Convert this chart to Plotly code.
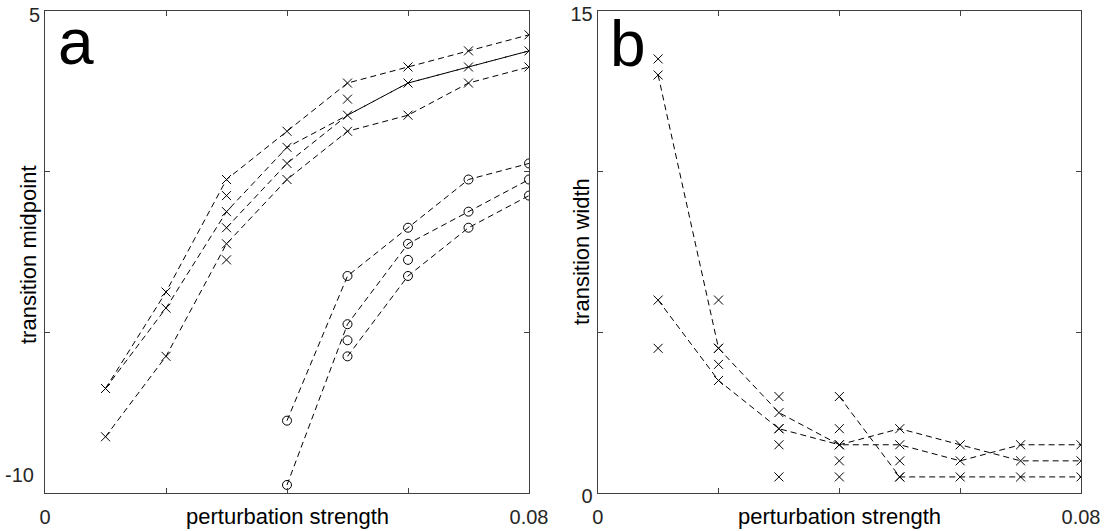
import plotly.graph_objects as go

W, H = 1110, 531
FONT = "Liberation Sans, Arial, sans-serif"

# ---------------- data ----------------
xs = [0.01, 0.02, 0.03, 0.04, 0.05, 0.06, 0.07, 0.08]

# panel a: crosses (individual values per x)
a_cross_x = [0.01, 0.01, 0.01,
             0.02, 0.02, 0.02,
             0.03, 0.03, 0.03, 0.03, 0.03, 0.03,
             0.04, 0.04, 0.04, 0.04,
             0.05, 0.05, 0.05, 0.05,
             0.06, 0.06, 0.06,
             0.07, 0.07, 0.07,
             0.08, 0.08, 0.08]
a_cross_y = [-6.75, -6.75, -8.25,
             -3.75, -4.25, -5.75,
             -0.25, -0.75, -1.25, -1.75, -2.25, -2.75,
             1.25, 0.75, 0.25, -0.25,
             2.75, 2.25, 1.75, 1.25,
             3.25, 2.75, 1.75,
             3.75, 3.25, 2.75,
             4.25, 3.75, 3.25]
a_line1 = [-6.75, -3.75, -0.25, 1.25, 2.75, 3.25, 3.75, 4.25]
a_line2 = [-6.75, -4.25, -1.25, 0.75, 1.75, 2.75, 3.25, 3.75]
a_line3_x = [0.03, 0.04, 0.05, 0.06, 0.07, 0.08]
a_line3 = [-1.75, 0.25, 1.75, 2.75, 3.25, 3.75]
a_line4 = [-8.25, -5.75, -2.25, -0.25, 1.25, 1.75, 2.75, 3.25]

# panel a: circles
a_circ_x = [0.04, 0.04,
            0.05, 0.05, 0.05, 0.05,
            0.06, 0.06, 0.06, 0.06,
            0.07, 0.07, 0.07,
            0.08, 0.08, 0.08]
a_circ_y = [-7.75, -9.75,
            -3.25, -4.75, -5.25, -5.75,
            -1.75, -2.25, -2.75, -3.25,
            -0.25, -1.25, -1.75,
            0.25, -0.25, -0.75]
c_x12 = [0.04, 0.05, 0.06, 0.07, 0.08]
c_line1 = [-7.75, -3.25, -1.75, -0.25, 0.25]
c_line2 = [-9.75, -4.75, -2.25, -1.25, -0.25]
c_x3 = [0.05, 0.06, 0.07, 0.08]
c_line3 = [-5.75, -3.25, -1.75, -0.75]

# panel b: crosses
b_x = [0.01, 0.01, 0.01, 0.01,
       0.02, 0.02, 0.02, 0.02, 0.02,
       0.03, 0.03, 0.03, 0.03, 0.03, 0.03,
       0.04, 0.04, 0.04, 0.04, 0.04, 0.04,
       0.05, 0.05, 0.05, 0.05, 0.05,
       0.06, 0.06, 0.06,
       0.07, 0.07, 0.07,
       0.08, 0.08, 0.08]
b_y = [13.5, 13.0, 6.0, 4.5,
       6.0, 4.5, 4.5, 4.0, 3.5,
       3.0, 2.5, 2.0, 2.0, 1.5, 0.5,
       3.0, 2.0, 1.5, 1.5, 1.0, 0.5,
       2.0, 1.5, 1.0, 0.5, 0.5,
       1.5, 1.0, 0.5,
       1.5, 1.0, 0.5,
       1.5, 1.0, 0.5]
b_line1 = [13.0, 4.5, 2.5, 1.5, 1.5, 1.0, 1.5, 1.5]
b_line2 = [6.0, 3.5, 2.0, 1.5, 2.0, 1.5, 1.0, 1.0]
b_line3_x = [0.04, 0.05, 0.06, 0.07, 0.08]
b_line3 = [3.0, 0.5, 0.5, 0.5, 0.5]

x_tickvals = [0, 0.02, 0.04, 0.06, 0.08]
x_ticktext = ["0", "", "", "", "0.08"]
a_tickvals = [-10, -5, 0, 5]
a_ticktext = ["", "", "", "5"]
b_tickvals = [0, 5, 10, 15]
b_ticktext = ["0", "", "", "15"]

# ---------------- figure ----------------
fig = go.Figure()
DASH = "6px,4px"
LW = 1


def add_line(x, y, xa, ya):
    fig.add_trace(go.Scatter(x=x, y=y, mode="lines", xaxis=xa, yaxis=ya,
                             line=dict(color="black", width=LW, dash=DASH),
                             showlegend=False, hoverinfo="skip"))


def add_marks(x, y, xa, ya, symbol, size):
    fig.add_trace(go.Scatter(x=x, y=y, mode="markers", xaxis=xa, yaxis=ya,
                             marker=dict(symbol=symbol, size=size, color="black",
                                         line=dict(color="black", width=1)),
                             showlegend=False))


for ly in (a_line1, a_line2, a_line4):
    add_line(xs, ly, "x", "y")
add_line(a_line3_x, a_line3, "x", "y")
add_line(c_x12, c_line1, "x", "y")
add_line(c_x12, c_line2, "x", "y")
add_line(c_x3, c_line3, "x", "y")
add_marks(a_cross_x, a_cross_y, "x", "y", "x-thin", 9)
add_marks(a_circ_x, a_circ_y, "x", "y", "circle-open", 9)

add_line(xs, b_line1, "x2", "y2")
add_line(xs, b_line2, "x2", "y2")
add_line(b_line3_x, b_line3, "x2", "y2")
add_marks(b_x, b_y, "x2", "y2", "x-thin", 9)

AX = "#404040"
TXT = "#262626"

ax_common = dict(showgrid=False, zeroline=False, showline=True, linecolor=AX,
                 linewidth=1, mirror="allticks", ticks="inside", ticklen=5,
                 tickcolor=AX, tickwidth=1, automargin=False,
                 ticklabeloverflow="allow",
                 tickfont=dict(family=FONT, size=20, color=TXT))

xa_dom = [45 / W, 529 / W]
xb_dom = [597.7 / W, 1081 / W]
y_dom = [(H - 493) / H, (H - 10.7) / H]

fig.update_layout(
    width=W, height=H,
    margin=dict(l=0, r=0, t=0, b=0),
    paper_bgcolor="white", plot_bgcolor="white",
    showlegend=False,
    xaxis=dict(domain=xa_dom, range=[0, 0.08], tickvals=x_tickvals,
               ticktext=x_ticktext, anchor="y", ticklabelstandoff=6, **ax_common),
    yaxis=dict(domain=y_dom, range=[-10, 5], tickvals=a_tickvals,
               ticktext=a_ticktext, anchor="x", ticklabelshift=4, **ax_common),
    xaxis2=dict(domain=xb_dom, range=[0, 0.08], tickvals=x_tickvals,
                ticktext=x_ticktext, anchor="y2", ticklabelstandoff=6, **ax_common),
    yaxis2=dict(domain=y_dom, range=[0, 15], tickvals=b_tickvals,
                ticktext=b_ticktext, anchor="x2", ticklabelshift=3, **ax_common),
)

ann = []
# -10 label (raised in the original)
ann.append(dict(x=xa_dom[0], y=-10, xref="paper", yref="y", text="-10",
                xanchor="right", yanchor="middle", xshift=-9, yshift=18,
                showarrow=False, font=dict(family=FONT, size=20, color=TXT)))
# axis titles
for dom in (xa_dom, xb_dom):
    ann.append(dict(x=(dom[0] + dom[1]) / 2, y=(H - 516) / H, xref="paper", yref="paper",
                    text="perturbation strength", xanchor="center", yanchor="middle",
                    showarrow=False, font=dict(family=FONT, size=22, color="black")))
ann.append(dict(x=28 / W, y=(H - 255) / H, xref="paper", yref="paper",
                text="transition midpoint", textangle=-90, xanchor="center",
                yanchor="middle", showarrow=False,
                font=dict(family=FONT, size=22, color="black")))
ann.append(dict(x=582 / W, y=(H - 252) / H, xref="paper", yref="paper",
                text="transition width", textangle=-90, xanchor="center",
                yanchor="middle", showarrow=False,
                font=dict(family=FONT, size=22, color="black")))
# panel letters
ann.append(dict(x=56 / W, y=(H - 42) / H, xref="paper", yref="paper", text="a",
                xanchor="left", yanchor="middle", showarrow=False,
                font=dict(family=FONT, size=64, color="black")))
ann.append(dict(x=608 / W, y=(H - 44) / H, xref="paper", yref="paper", text="b",
                xanchor="left", yanchor="middle", showarrow=False,
                font=dict(family=FONT, size=64, color="black")))
fig.update_layout(annotations=ann)

fig.write_html("out.html")
